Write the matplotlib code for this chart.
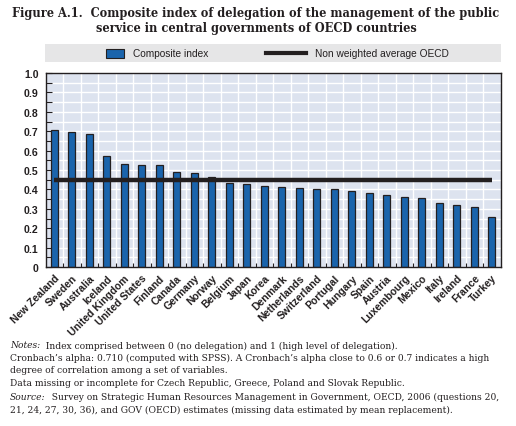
import matplotlib
matplotlib.use("Agg")
import matplotlib.pyplot as plt
from matplotlib import font_manager
from matplotlib.patches import Rectangle
from matplotlib.lines import Line2D

countries = ["New Zealand", "Sweden", "Australia", "Iceland", "United Kingdom",
             "United States", "Finland", "Canada", "Germany", "Norway", "Belgium",
             "Japan", "Korea", "Denmark", "Netherlands", "Switzerland", "Portugal",
             "Hungary", "Spain", "Austria", "Luxembourg", "Mexico", "Italy",
             "Ireland", "France", "Turkey"]
composite = [0.705, 0.698, 0.684, 0.570, 0.529, 0.524, 0.524, 0.488, 0.483, 0.462,
             0.431, 0.426, 0.416, 0.411, 0.406, 0.400, 0.400, 0.390, 0.380, 0.370,
             0.359, 0.354, 0.328, 0.318, 0.308, 0.256]
oecd_avg = 0.449
yticks = [0, 0.1, 0.2, 0.3, 0.4, 0.5, 0.6, 0.7, 0.8, 0.9, 1.0]
ytick_labels = ["0", "0.1", "0.2", "0.3", "0.4", "0.5", "0.6", "0.7", "0.8", "0.9", "1.0"]

fm = font_manager.fontManager.ttflist
avail = {f.name for f in fm}
sans = "Liberation Sans Narrow" if "Liberation Sans Narrow" in avail else "Liberation Sans"
serif = "DejaVu Serif"
has_cond = any(f.name == "DejaVu Serif" and str(f.stretch) in ("condensed", "semi-condensed", "75", "87") for f in fm)
stretch = "condensed" if has_cond else "normal"

W, H = 516, 427
fig = plt.figure(figsize=(W / 100, H / 100), dpi=100)
fig.canvas.draw()
r = fig.canvas.get_renderer()

def px(x0, y0, x1, y1):
    return [x0 / W, 1 - y1 / H, (x1 - x0) / W, (y1 - y0) / H]

def text_w(s, size, **kw):
    t = fig.text(0, 0, s, fontsize=size, **kw)
    w = t.get_window_extent(renderer=r).width
    t.remove()
    return w

BLUE = "#1a64ac"
DARK = "#231f20"

# Title
t1 = "Figure A.1.  Composite index of delegation of the management of the public"
t2 = "service in central governments of OECD countries"
tkw = dict(family=serif, fontweight="bold", fontstretch=stretch)
tfs = 8.0 * 487 / text_w(t1, 8.0, **tkw)
fig.text(255.5 / W, 1 - 13 / H, t1, ha="center", va="center", fontsize=tfs, color=DARK, **tkw)
fig.text(256.5 / W, 1 - 28.5 / H, t2, ha="center", va="center", fontsize=tfs, color=DARK, **tkw)

# Legend box
lax = fig.add_axes(px(45, 45, 501, 63))
lax.set_xlim(0, 456)
lax.set_ylim(0, 18)
lax.axis("off")
lax.add_patch(Rectangle((0, 0), 456, 18, facecolor="#e6e6e7", edgecolor="none"))
lax.add_patch(Rectangle((61, 4.5), 18, 9, facecolor=BLUE, edgecolor=DARK, lw=0.8))
lax.text(88, 9, "Composite index", va="center", ha="left", fontsize=7.3, family=sans, color=DARK)
lax.add_line(Line2D([221, 261], [9, 9], color=DARK, lw=3))
lax.text(270, 9, "Non weighted average OECD", va="center", ha="left", fontsize=7.3, family=sans, color=DARK)

# Main axes
ax = fig.add_axes(px(45.5, 74, 500.5, 268))
ax.set_facecolor("#dde3ef")
n = len(countries)
x = list(range(n))
ax.set_xlim(-0.5, n - 0.5)
ax.set_ylim(0, 1.0)
for k in range(1, 20):
    ax.axhline(k * 0.05, color="white", lw=1.0, zorder=1)
for k in range(n - 1):
    ax.axvline(k + 0.5, color="white", lw=1.0, zorder=1)
ax.bar(x, composite, width=0.4, color=BLUE, edgecolor=DARK, lw=0.9, zorder=2)
ax.plot([x[0], x[-1]], [oecd_avg, oecd_avg], color=DARK, lw=3.2, zorder=3, solid_capstyle="butt")

ax.set_yticks(yticks)
ax.set_yticklabels(ytick_labels, fontsize=7.6, fontweight="bold", family=sans, color=DARK)
ax.set_yticks([0.05 + 0.1 * k for k in range(10)], minor=True)
ax.tick_params(axis="y", which="both", direction="in", length=4, width=0.8, color=DARK, pad=5)
ax.set_xticks(x)
ax.set_xticklabels(countries, rotation=45, ha="right", rotation_mode="anchor",
                   fontsize=7.5, fontweight="bold", family=sans, color=DARK)
ax.tick_params(axis="x", which="major", length=0, pad=4)
ax.set_xticks([k + 0.5 for k in range(n - 1)], minor=True)
ax.tick_params(axis="x", which="minor", direction="in", length=3, width=0.8, color=DARK)
for s in ax.spines.values():
    s.set_color(DARK)
    s.set_linewidth(1.0)

# Notes
lines = [
    (346, "Notes:", "  Index comprised between 0 (no delegation) and 1 (high level of delegation)."),
    (358.5, None, "Cronbach\u2019s alpha: 0.710 (computed with SPSS). A Cronbach\u2019s alpha close to 0.6 or 0.7 indicates a high"),
    (371, None, "degree of correlation among a set of variables."),
    (384, None, "Data missing or incomplete for Czech Republic, Greece, Poland and Slovak Republic."),
    (397.5, "Source:", "  Survey on Strategic Human Resources Management in Government, OECD, 2006 (questions 20,"),
    (410, None, "21, 24, 27, 30, 36), and GOV (OECD) estimates (missing data estimated by mean replacement)."),
]
nkw = dict(family=serif, fontstretch=stretch)
w_src = text_w(lines[4][1], 8.0, style="italic", **nkw) + text_w(lines[4][2], 8.0, **nkw)
w_cro = text_w(lines[1][2], 8.0, **nkw)
fs = min(8.0 * 489 / w_src, 8.0 * 493 / w_cro)
for y, it, rest in lines:
    x0 = 10 / W
    if it:
        t = fig.text(x0, 1 - y / H, it, ha="left", va="center", fontsize=fs,
                     style="italic", color=DARK, **nkw)
        bb = t.get_window_extent(renderer=r)
        x0 = bb.x1 / W
    fig.text(x0, 1 - y / H, rest, ha="left", va="center", fontsize=fs, color=DARK, **nkw)

fig.savefig("out.png", dpi=100, facecolor="white")
